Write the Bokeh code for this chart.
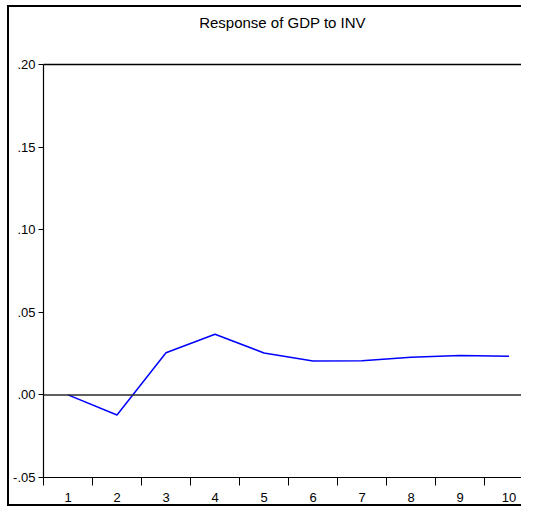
from bokeh.plotting import figure
from bokeh.models import Range1d, FixedTicker, LinearAxis, Span
from bokeh.embed import file_html
from bokeh.resources import INLINE

# ---- data ----
periods = [1, 2, 3, 4, 5, 6, 7, 8, 9, 10]
response = [0.0, -0.0122, 0.0255, 0.0367, 0.0254, 0.0205, 0.0206, 0.0228, 0.0238, 0.0234]
y_tick_values = [-0.05, 0.0, 0.05, 0.10, 0.15, 0.20]
y_tick_labels = ["-.05", ".00", ".05", ".10", ".15", ".20"]
x_tick_values = periods
x_tick_labels = [str(v) for v in periods]
x_separators = [0.5, 1.5, 2.5, 3.5, 4.5, 5.5, 6.5, 7.5, 8.5, 9.5]
title_text = "Response of GDP to INV"

FONT = "Liberation Sans"

p = figure(
    width=512, height=497,
    output_backend="svg", toolbar_location=None,
    x_range=Range1d(0.5, 10.255), y_range=Range1d(-0.05, 0.20),
    min_border_left=34, min_border_right=0, min_border_top=57, min_border_bottom=24,
)
p.styles = {
    "margin-left": "9px", "margin-top": "7px",
    "box-shadow": "-2px 0 0 0 #000, 0 -2px 0 0 #000, 0 2px 0 0 #000, -2px -2px 0 0 #000, -2px 2px 0 0 #000",
}
p.border_fill_color = "white"
p.background_fill_color = "white"
p.outline_line_color = None
p.grid.visible = False

# zero line
p.add_layout(Span(location=0, dimension="width", line_color="#2a2a2a", line_width=1.5))

# response line
p.line(periods, response, line_color="#0000ff", line_width=1.5)

# x axis
xa = p.xaxis[0]
xa.ticker = FixedTicker(ticks=x_tick_values, minor_ticks=x_separators)
xa.major_label_overrides = {v: l for v, l in zip(x_tick_values, x_tick_labels)}
xa.major_tick_line_color = None
xa.major_tick_out = 0
xa.major_tick_in = 0
xa.minor_tick_line_color = "#000000"
xa.minor_tick_out = 8
xa.minor_tick_in = 0
xa.axis_line_color = "#000000"
xa.axis_line_width = 1.2
xa.major_label_text_font = FONT
xa.major_label_text_font_size = "13px"
xa.major_label_text_color = "#000000"
xa.major_label_standoff = 7

# y axis
ya = p.yaxis[0]
ya.ticker = FixedTicker(ticks=y_tick_values)
ya.major_label_overrides = {v: l for v, l in zip(y_tick_values, y_tick_labels)}
ya.minor_tick_line_color = None
ya.major_tick_out = 5
ya.major_tick_in = 0
ya.major_tick_line_color = "#000000"
ya.axis_line_color = "#000000"
ya.axis_line_width = 1.2
ya.major_label_text_font = FONT
ya.major_label_text_font_size = "13px"
ya.major_label_text_color = "#000000"
ya.major_label_standoff = 3

# top frame line carrying the chart title
top = LinearAxis(ticker=FixedTicker(ticks=[]), major_label_text_font_size="0px",
                 major_label_standoff=0,
                 major_tick_line_color=None, minor_tick_line_color=None,
                 axis_line_color="#000000", axis_line_width=1.5,
                 axis_label=title_text, axis_label_standoff=34,
                 axis_label_text_font=FONT, axis_label_text_font_size="15px",
                 axis_label_text_font_style="normal", axis_label_text_color="#000000")
p.add_layout(top, "above")

open("out.html", "w").write(file_html(p, INLINE))
